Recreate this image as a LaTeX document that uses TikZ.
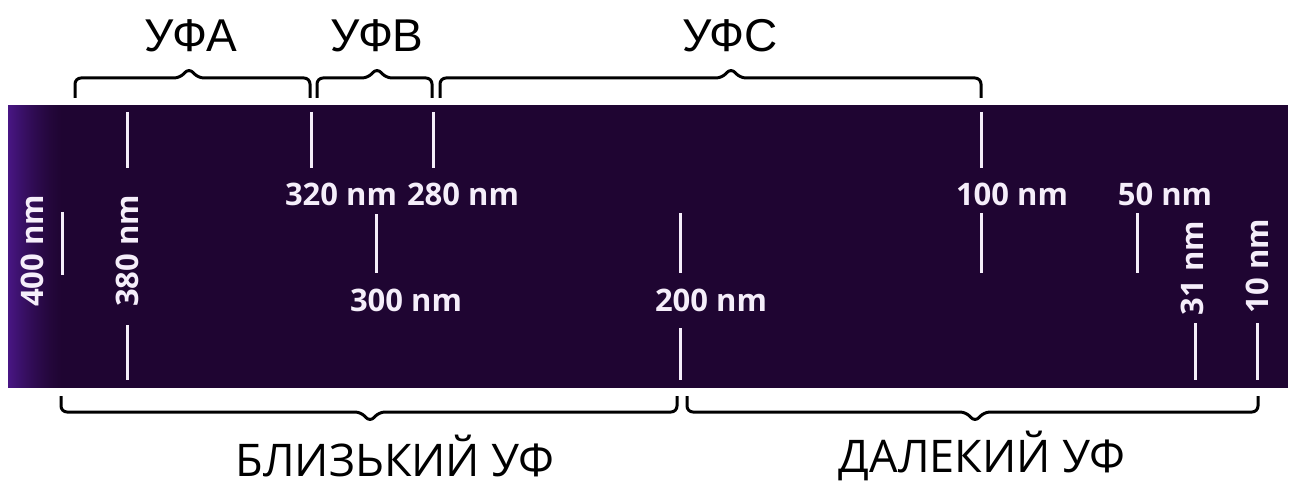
\documentclass[tikz,border=0pt]{standalone}
\usepackage{fontspec}
\setmainfont{Open Sans}
\newfontfamily\arialf{Liberation Sans}
\definecolor{band}{RGB}{31,5,50}
\definecolor{bandleft}{RGB}{72,22,132}
\definecolor{lab}{RGB}{245,238,250}
\tikzset{
  tickline/.style={draw=lab, line width=3pt},
  nmlabel/.style={text=lab, font=\bfseries\fontsize{31}{31}\selectfont, inner sep=0pt},
  toplabel/.style={font=\arialf\fontsize{46}{46}\selectfont, inner sep=0pt},
  botlabel/.style={font=\fontsize{45}{45}\selectfont, inner sep=0pt},
  bracepath/.style={draw=black, line width=3pt, rounded corners=6pt}
}
\newcommand\mytopbrace[3]{%
  \draw[bracepath] (#1,98) |- (#2-9,78) -- (#2,68) -- (#2+9,78) -| (#3,98);}
\newcommand\mybotbrace[3]{%
  \draw[bracepath] (#1,396) |- (#2-9,412) -- (#2,422) -- (#2+9,412) -| (#3,396);}
\begin{document}
\begin{tikzpicture}[x=1pt,y=-1pt]
\useasboundingbox (0,0) rectangle (1292,484);
\fill[white] (0,0) rectangle (1292,484);
% band
\fill[band] (8,105) rectangle (1288,388);
\foreach \i in {0,...,55}{
  \pgfmathsetmacro\p{100*(1-\i/55)^1.5}
  \fill[bandleft!\p!band] (8+\i,105) rectangle (9.3+\i,388);
}
% top braces and labels
\mytopbrace{75}{189}{310}
\mytopbrace{317}{377}{432}
\mytopbrace{440}{731}{981}
\node[toplabel] (uva) at (191,36) {УФА};
\node[toplabel] (uvb) at (377,36) {УФВ};
\node[toplabel] (uvc) at (730,36) {УФС};
% bottom braces and labels
\mybotbrace{61}{370}{677}
\mybotbrace{687}{975}{1258}
\node[botlabel] (near) at (395,456) {БЛИЗЬКИЙ УФ};
\node[botlabel] (far) at (982,456) {ДАЛЕКИЙ УФ};
% ticks
\draw[tickline] (62,212) -- (62,275);
\draw[tickline] (127,112) -- (127,168);
\draw[tickline] (127,325) -- (127,380);
\draw[tickline] (311,112) -- (311,168);
\draw[tickline] (433,112) -- (433,168);
\draw[tickline] (376,214) -- (376,273);
\draw[tickline] (680,213) -- (680,273);
\draw[tickline] (680,328) -- (680,380);
\draw[tickline] (981,112) -- (981,168);
\draw[tickline] (981,213) -- (981,273);
\draw[tickline] (1137,213) -- (1137,273);
\draw[tickline] (1195,323) -- (1195,380);
\draw[tickline] (1257,323) -- (1257,380);
% nm labels
\node[nmlabel, rotate=90] (l400) at (32,251) {400 nm};
\node[nmlabel, rotate=90] (l380) at (127,251) {380 nm};
\node[nmlabel] (l320) at (341,194) {320 nm};
\node[nmlabel] (l280) at (463,194) {280 nm};
\node[nmlabel] (l300) at (406,300) {300 nm};
\node[nmlabel] (l200) at (711,300) {200 nm};
\node[nmlabel] (l100) at (1012,194) {100 nm};
\node[nmlabel] (l50) at (1165,194) {50 nm};
\node[nmlabel, rotate=90] (l31) at (1192,268) {31 nm};
\node[nmlabel, rotate=90] (l10) at (1257,266) {10 nm};
\end{tikzpicture}
\end{document}
